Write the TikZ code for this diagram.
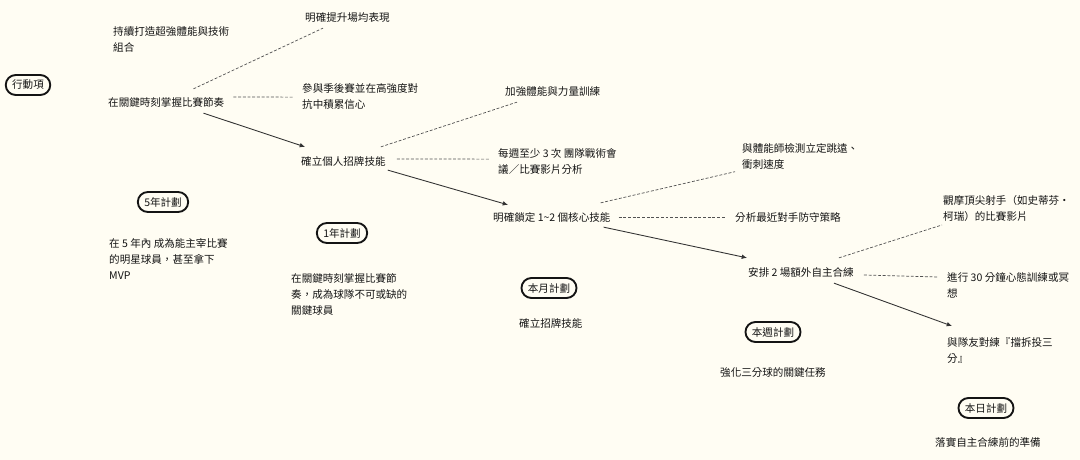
\documentclass[tikz,border=0pt]{standalone}
\usepackage{fontspec}
\setmainfont{Noto Sans CJK TC}
\usetikzlibrary{arrows.meta,calc}
\definecolor{paper}{HTML}{FFFDF3}
\definecolor{ink}{HTML}{141414}
\definecolor{wire}{HTML}{333333}

\begin{document}
\begin{tikzpicture}[
    x=0.03cm, y=-0.03cm,
    plan/.style={draw=ink, line width=1.6pt, rectangle, rounded corners=0.3cm, minimum height=0.6cm, inner xsep=5.5pt, inner ysep=1pt, font=\fontsize{9}{13.6}\selectfont, text=ink},
    item/.style={inner sep=0pt, align=left, font=\fontsize{9}{13.6}\selectfont, text=ink},
    arrow/.style={draw=wire, line width=0.75pt, -{Latex[length=4.5pt,width=4pt]}},
    link/.style={draw=wire!85, line width=0.6pt, dash pattern=on 2.5pt off 1.5pt}
]
\fill[paper] (0,0) rectangle (1080,460);
\useasboundingbox (0,0) rectangle (1080,460);

% Plans
\node[plan] (act) at (28,85) {行動項};
\node[plan] (y5) at (163,202) {5年計劃};
\node[plan] (y1) at (342,233) {1年計劃};
\node[plan] (mon) at (549,288) {本月計劃};
\node[plan] (wk) at (773,332) {本週計劃};
\node[plan] (day) at (986,408) {本日計劃};

% Plan notes
\node[item, anchor=north west] (y5txt) at (109,238) {在 5 年內 成為能主宰比賽\\的明星球員，甚至拿下\\MVP};
\node[item, anchor=north west] (y1txt) at (291,273) {在關鍵時刻掌握比賽節\\奏，成為球隊不可或缺的\\關鍵球員};
\node[item, anchor=west] (montxt) at (519,323) {確立招牌技能};
\node[item, anchor=west] (wktxt) at (720,372) {強化三分球的關鍵任務};
\node[item, anchor=west] (daytxt) at (935,442) {落實自主合練前的準備};

% Chain
\node[item, anchor=north west] (goal) at (113,26) {持續打造超強體能與技術\\組合};
\node[item, anchor=west] (s1) at (108,102) {在關鍵時刻掌握比賽節奏};
\node[item, anchor=west] (s2) at (301,161) {確立個人招牌技能};
\node[item, anchor=west] (s3) at (493,217) {明確鎖定 1\textasciitilde 2 個核心技能};
\node[item, anchor=west] (s4) at (748,272) {安排 2 場額外自主合練};
\node[item, anchor=north west] (s5) at (947,337) {與隊友對練『擋拆投三\\分』};

% Side tasks
\node[item, anchor=west] (s1a) at (305,18) {明確提升場均表現};
\node[item, anchor=north west] (s1b) at (302,83) {參與季後賽並在高強度對\\抗中積累信心};
\node[item, anchor=west] (s2a) at (505,92) {加強體能與力量訓練};
\node[item, anchor=north west] (s2b) at (498,148) {每週至少 3 次 團隊戰術會\\議／比賽影片分析};
\node[item, anchor=north west] (s3a) at (742,143) {與體能師檢測立定跳遠、\\衝刺速度};
\node[item, anchor=west] (s3b) at (735,217) {分析最近對手防守策略};
\node[item, anchor=north west] (s4a) at (943,195) {觀摩頂尖射手（如史蒂芬·\\柯瑞）的比賽影片};
\node[item, anchor=north west] (s4b) at (947,272) {進行 30 分鐘心態訓練或冥\\想};

% Arrows
\draw[arrow] ($(s1.south east)+(-21,6)$) -- ($(s2.north west)+(4,-9)$);
\draw[arrow] ($(s2.south east)+(2,4)$) -- ($(s3.north west)+(15,-7)$);
\draw[arrow] ($(s3.south east)+(-7,5)$) -- ($(s4.north west)+(-1,-9)$);
\draw[arrow] ($(s4.south east)+(-20,6)$) -- ($(s5.north west)+(5,-11)$);

% Dashed links
\draw[link] ($(s1.north east)+(-31,-8)$) -- ($(s1a.south west)+(18,5)$);
\draw[link] ($(s1.east)+(9,-5)$) -- ($(s1b.west)+(-9,1)$);
\draw[link] ($(s2.north east)+(-5,-9)$) -- ($(s2a.south west)+(12,5)$);
\draw[link] ($(s2.east)+(11,-2)$) -- ($(s2b.west)+(-9,-2)$);
\draw[link] ($(s3.north east)+(-10,-9)$) -- ($(s3a.south west)+(-7,2.5)$);
\draw[link] ($(s3.east)+(8,0)$) -- ($(s3b.west)+(-10,0)$);
\draw[link] ($(s4.north east)+(-15,-9)$) -- ($(s4a.south west)+(-1,3.5)$);
\draw[link] ($(s4.east)+(10,3)$) -- ($(s4b.north west)+(-9,5)$);

\end{tikzpicture}
\end{document}
